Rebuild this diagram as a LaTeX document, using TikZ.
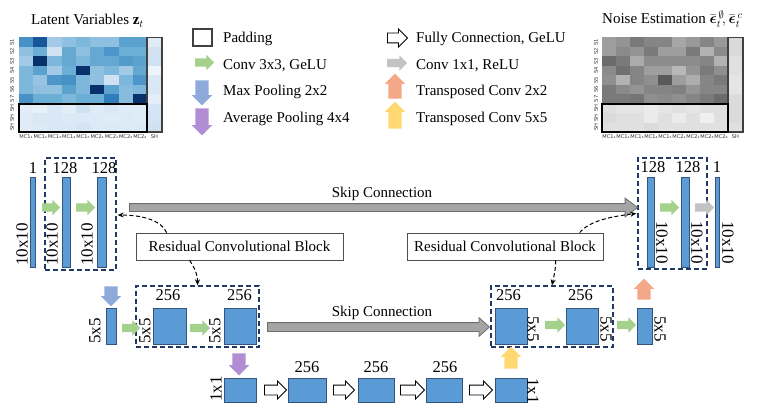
\documentclass[tikz,border=0pt]{standalone}
\usepackage{fix-cm}
\usepackage{amsmath,amssymb}
\usepackage{fontspec}
\setmainfont{Liberation Serif}
\newfontfamily\tickfont{DejaVu Sans}
\usetikzlibrary{shapes.arrows,arrows.meta,calc}
\definecolor{barfill}{HTML}{5B9BD5}
\definecolor{bardraw}{HTML}{35557F}
\definecolor{dashcol}{HTML}{1F3864}
\definecolor{arrgreen}{HTML}{A4D18C}
\definecolor{arrgray}{HTML}{C3C3C3}
\definecolor{arrblue}{HTML}{8EAADB}
\definecolor{arrpurple}{HTML}{B18ED3}
\definecolor{arrorange}{HTML}{F5A887}
\definecolor{arryellow}{HTML}{FFD872}
\definecolor{skipfill}{HTML}{A5A5A5}
\definecolor{skipdraw}{HTML}{6E6E6E}
\definecolor{rcbcol}{HTML}{505050}
\definecolor{padcol}{HTML}{404040}
\definecolor{hmbord}{HTML}{404040}
\definecolor{bl0}{HTML}{F7FBFF}
\definecolor{bl1}{HTML}{C6DBEF}
\definecolor{bl2}{HTML}{6BAED6}
\definecolor{bl3}{HTML}{2171B5}
\definecolor{bl4}{HTML}{08306B}
\newcommand\hmblue[1]{%
 \ifnum#1<25 \pgfmathtruncatemacro\pp{4*#1}\colorlet{hmc}{bl1!\pp!bl0}%
 \else\ifnum#1<50 \pgfmathtruncatemacro\pp{4*(#1-25)}\colorlet{hmc}{bl2!\pp!bl1}%
 \else\ifnum#1<75 \pgfmathtruncatemacro\pp{4*(#1-50)}\colorlet{hmc}{bl3!\pp!bl2}%
 \else \pgfmathtruncatemacro\pp{4*(#1-75)}\colorlet{hmc}{bl4!\pp!bl3}\fi\fi\fi}
\newcommand\mkrect[6]{\node[#6, minimum width={#4-#2}, minimum height={#5-#3}] (#1) at ({(#2+#4)/2},{(#3+#5)/2}) {};}
\newcommand\mkharrow[5]{\node[#5, minimum height={#3-#2}] (#1) at ({(#2+#3)/2},#4) {};}
\newcommand\mkvarrow[5]{\node[#5, minimum height={#4-#3}] (#1) at (#2,{(#3+#4)/2}) {};}
\begin{document}
\begin{tikzpicture}[x=1pt,y=-1pt,font=\fontsize{15}{18}\selectfont,
  barn/.style={draw=bardraw, fill=barfill, line width=0.8pt, inner sep=0pt},
  dbox/.style={draw=dashcol, dash pattern=on 5pt off 3pt, line width=1.3pt, inner sep=0pt},
  rcb/.style={draw=rcbcol, fill=white, line width=0.7pt, minimum width=207pt, minimum height=27pt, inner sep=0pt},
  num/.style={font=\fontsize{16.5}{18}\selectfont, inner sep=0pt},
  dimL/.style={font=\fontsize{17}{18}\selectfont, inner sep=0pt, rotate=90, anchor=west},
  dimR/.style={font=\fontsize{17}{18}\selectfont, inner sep=0pt, rotate=-90, anchor=west},
  lgtext/.style={anchor=base west, inner sep=0pt},
  tick/.style={font=\tickfont\fontsize{5.1}{6}\selectfont, inner sep=0pt, text=black!80},
  blockarr/.style={single arrow, inner xsep=0pt, inner ysep=4pt, outer sep=0pt, single arrow head extend=3.5pt, draw=none},
  garr/.style={blockarr, fill=arrgreen},
  grarr/.style={blockarr, fill=arrgray},
  harr/.style={blockarr, fill=white, draw=black, line width=0.8pt, inner ysep=4.5pt, single arrow head extend=4pt},
  varr/.style={blockarr, inner ysep=6.5pt, single arrow head extend=3.5pt},
  barr/.style={varr, fill=arrblue, rotate=-90},
  parr/.style={varr, fill=arrpurple, rotate=-90},
  oarr/.style={varr, fill=arrorange, rotate=90},
  yarr/.style={varr, fill=arryellow, rotate=90},
  skiparr/.style={single arrow, inner xsep=0pt, outer sep=0pt, fill=skipfill, draw=skipdraw, line width=0.8pt},
  curv/.style={black, line width=1pt, dash pattern=on 4pt off 2.5pt, -{Stealth[length=6pt,width=5pt]}}
]
\useasboundingbox (0,0) rectangle (763,409);
% ---------- left heatmap ----------
\foreach \rowvals [count=\r] in {{62,85,35,40,45,40,40,55,55,12},{40,50,20,52,40,52,60,50,50,20},{35,100,45,52,45,52,52,58,55,20},{45,55,35,50,100,40,45,35,52,5},{45,38,60,62,45,40,20,45,60,15},{45,40,40,55,45,100,55,42,45,15},{62,50,50,45,50,50,70,42,100,10},{10,8,15,10,20,12,15,12,12,18},{12,15,15,14,14,14,12,14,12,18},{12,14,15,15,18,14,14,14,14,20}}{
  \foreach \v [count=\c] in \rowvals {
    \hmblue{\v}
    \ifnum\c<10
      \fill[hmc] ({19+(\c-1)*14.222},{37.5+(\r-1)*9.45}) rectangle ++(14.3,9.5);
    \else
      \fill[hmc] (147,{37.5+(\r-1)*9.45}) rectangle ++(15,9.5);
    \fi
  }
}
\draw[line width=1.3pt, draw=hmbord] (147,37.5) rectangle (162,132);
\draw[line width=1.3pt, black] (19,104) rectangle (147,132);
% ---------- right heatmap ----------
\foreach \rowvals [count=\r] in {{38,42,52,48,48,35,40,48,40,15},{38,46,42,52,38,38,52,30,46,15},{58,52,33,45,45,45,45,48,30,12},{46,56,48,38,38,28,42,52,44,12},{44,30,48,44,65,38,32,48,52,10},{52,46,42,48,48,50,42,48,48,10},{52,52,54,44,46,44,48,52,58,14},{12,10,10,8,10,12,10,12,12,14},{14,12,12,8,12,8,12,6,12,14},{12,12,12,14,12,12,12,12,12,12}}{
  \foreach \v [count=\c] in \rowvals {
    \ifnum\c<10
      \fill[black!\v!white] ({602+(\c-1)*14},{37.5+(\r-1)*9.45}) rectangle ++(14.1,9.5);
    \else
      \fill[black!\v!white] (728,{37.5+(\r-1)*9.45}) rectangle ++(15,9.5);
    \fi
  }
}
\draw[line width=1.3pt, draw=hmbord] (728,37.5) rectangle (743,132);
\draw[line width=1.3pt, black] (602,104) rectangle (728,132);
% ticks
\foreach \lab [count=\r] in {S1,S2,S3,S4,S5,S6,S7,SH,SH,SH}{
  \node[tick, rotate=90] (rl\r) at (12,{37.5+(\r-0.5)*9.45}) {\lab};
  \node[tick, rotate=90] (rr\r) at (596,{37.5+(\r-0.5)*9.45}) {\lab};
}
\foreach \lab [count=\c] in {MC1₁,MC1₂,MC1₃,MC1₄,MC1₅,MC2₁,MC2₂,MC2₃,MC2₄}{
  \node[tick] (cl\c) at ({19+(\c-0.5)*14.222},136.5) {\lab};
  \node[tick] (cr\c) at ({602+(\c-0.5)*14},136.5) {\lab};
}
\node[tick] (clSH) at (154.5,136.5) {SH};
\node[tick] (crSH) at (735.5,136.5) {SH};
\node[anchor=base west, inner sep=0pt] (tL) at (31,25) {Latent Variables $\mathbf{z}_t$};
\node[anchor=base west, inner sep=0pt] (tR) at (602,24) {Noise Estimation $\bar{\boldsymbol{\epsilon}}_t^{\,\emptyset}\!,\bar{\boldsymbol{\epsilon}}_t^{\,c}$};
% ---------- legend ----------
\node[draw=padcol, line width=1.2pt, minimum width=19pt, minimum height=17pt, inner sep=0pt, fill=white] (lgpad) at (202.5,37.5) {};
\mkharrow{lggreen}{193}{212}{62.5}{garr}
\mkvarrow{lgblue}{202}{77}{102}{barr}
\mkvarrow{lgpurple}{202}{105}{132}{parr}
\node[lgtext] (lgt1) at (223,43) {Padding};
\node[lgtext] (lgt2) at (223,69.5) {Conv 3x3, GeLU};
\node[lgtext] (lgt3) at (223,96) {Max Pooling 2x2};
\node[lgtext] (lgt4) at (223,122.5) {Average Pooling 4x4};
\mkharrow{lghollow}{385}{405}{38}{harr}
\mkharrow{lggray}{385}{405}{63}{grarr}
\mkvarrow{lgorange}{395}{77}{102}{oarr}
\mkvarrow{lgyellow}{395}{105}{132}{yarr}
\node[lgtext] (lgt5) at (416,43) {Fully Connection, GeLU};
\node[lgtext] (lgt6) at (416,69.5) {Conv 1x1, ReLU};
\node[lgtext] (lgt7) at (416,96) {Transposed Conv 2x2};
\node[lgtext] (lgt8) at (416,122.5) {Transposed Conv 5x5};
% ---------- dashed blocks ----------
\mkrect{dbL}{45}{158}{116}{270}{dbox}
\mkrect{dbR}{638}{158}{707}{269}{dbox}
\mkrect{dmL}{136}{286}{259}{347}{dbox}
\mkrect{dmR}{491}{286}{613}{347}{dbox}
% ---------- feature maps ----------
\mkrect{b1}{30.5}{177}{35.5}{267}{barn}
\mkrect{b2}{62}{177}{70}{267}{barn}
\mkrect{b3}{97}{177}{106}{267}{barn}
\mkrect{b4}{647}{177}{654}{267}{barn}
\mkrect{b5}{681}{177}{689}{267}{barn}
\mkrect{b6}{715}{177}{719}{267}{barn}
\mkrect{m1}{106}{308}{116}{344}{barn}
\mkrect{m2}{153}{308}{186}{344}{barn}
\mkrect{m3}{224}{308}{256}{344}{barn}
\mkrect{m4}{495}{308}{527}{344}{barn}
\mkrect{m5}{566}{308}{598}{344}{barn}
\mkrect{m6}{637}{308}{652}{344}{barn}
\mkrect{f1}{224}{378}{256}{402}{barn}
\mkrect{f2}{288}{378}{326}{402}{barn}
\mkrect{f3}{358}{378}{394}{402}{barn}
\mkrect{f4}{426}{378}{462}{402}{barn}
\mkrect{f5}{495}{378}{527}{402}{barn}
% channel numbers
\node[num] (nb1) at (33,168) {1};
\node[num] (nb2) at (65,168) {128};
\node[num] (nb3) at (104,168) {128};
\node[num] (nb4) at (653,167) {128};
\node[num] (nb5) at (688,167) {128};
\node[num] (nb6) at (717,167) {1};
\node[num] (nm2) at (168,295.5) {256};
\node[num] (nm3) at (239.5,295.5) {256};
\node[num] (nm4) at (508.5,295.5) {256};
\node[num] (nm5) at (580.5,295.5) {256};
\node[num] (nf2) at (307,367) {256};
\node[num] (nf3) at (376,367) {256};
\node[num] (nf4) at (445,367) {256};
% dimensions
\node[dimL] (d1) at (22,266) {10x10};
\node[dimL] (d2) at (52,266) {10x10};
\node[dimL] (d3) at (87,266) {10x10};
\node[dimR] (d4) at (662,221) {10x10};
\node[dimR] (d5) at (697,221) {10x10};
\node[dimR] (d6) at (728,221) {10x10};
\node[dimL] (e1) at (95,344) {5x5};
\node[dimL] (e2) at (145,344) {5x5};
\node[dimL] (e3) at (215,344) {5x5};
\node[dimR] (e4) at (533,316) {5x5};
\node[dimR] (e5) at (606,316) {5x5};
\node[dimR] (e6) at (660,316) {5x5};
\node[dimL] (g1) at (216,402) {1x1};
\node[dimR] (g5) at (533,378) {1x1};
% ---------- operation arrows ----------
\mkharrow{a1}{40}{58}{207.5}{garr}
\mkharrow{a2}{74}{93}{207.5}{garr}
\mkharrow{a3}{658}{677}{207.5}{garr}
\mkharrow{a4}{693}{712}{207.5}{grarr}
\mkharrow{a5}{120}{138}{328}{garr}
\mkharrow{a6}{188}{208}{328}{garr}
\mkharrow{a7}{543}{563}{325}{garr}
\mkharrow{a8}{615}{634}{325}{garr}
\mkvarrow{a9}{111}{283}{303}{barr}
\mkvarrow{a10}{239}{350}{372}{parr}
\mkvarrow{a11}{511}{350}{372}{yarr}
\mkvarrow{a12}{644}{282}{303}{oarr}
\mkharrow{h1}{262}{284}{390}{harr}
\mkharrow{h2}{331}{352}{390}{harr}
\mkharrow{h3}{398}{422}{390}{harr}
\mkharrow{h4}{467}{490}{390}{harr}
% ---------- skip connections ----------
\node[skiparr, minimum height=508pt, inner ysep=3.5pt, single arrow head extend=5.5pt, single arrow tip angle=74] (skipT) at (381,207.5) {};
\node[inner sep=0pt] (skTl) at (382,194) {Skip Connection};
\node[skiparr, minimum height=222pt, inner ysep=4pt, single arrow head extend=5pt, single arrow tip angle=84] (skipM) at (376,327) {};
\node[inner sep=0pt] (skMl) at (382,313) {Skip Connection};
% ---------- residual block labels ----------
\node[rcb] (rcbL) at (239.5,246.5) {Residual Convolutional Block};
\node[rcb, minimum width=196pt] (rcbR) at (505,246.5) {Residual Convolutional Block};
\draw[curv] ($(rcbL.north west)+(31,0)$) .. controls +(-5,-12) and +(25,0) .. ($(dbL.east)+(1,1)$);
\draw[curv] ($(rcbL.south west)+(54,0)$) .. controls +(5,8) and +(0,-12) .. (dmL.north);
\draw[curv] ($(rcbR.north west)+(173,0)$) .. controls +(10,-12) and +(-25,3) .. ($(dbR.west)+(-1,0)$);
\draw[curv] ($(rcbR.south west)+(149,0)$) .. controls +(0,10) and +(2,-10) .. (dmR.north);
\end{tikzpicture}
\end{document}
